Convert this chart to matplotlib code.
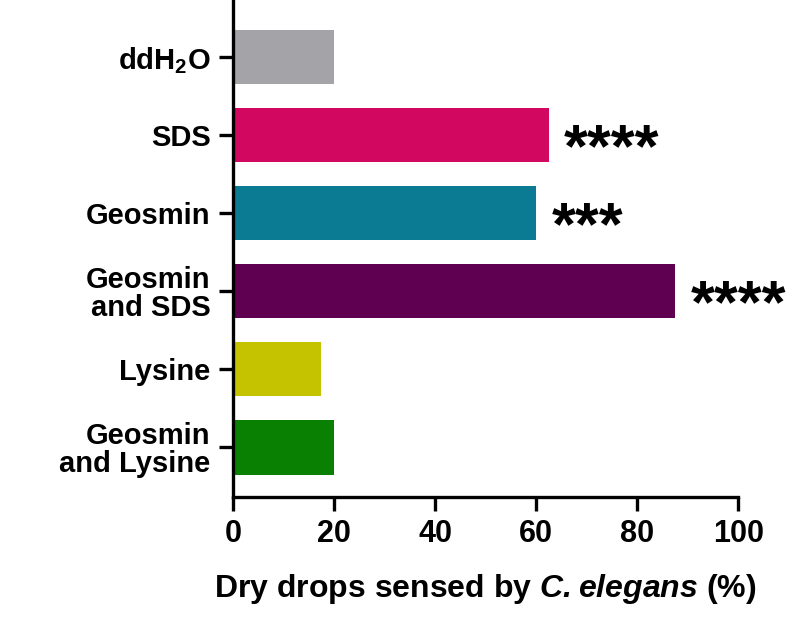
import matplotlib
matplotlib.use("Agg")
import matplotlib.pyplot as plt

categories = ["ddH$_\\mathbf{2}$O", "SDS", "Geosmin", "Geosmin\nand SDS", "Lysine", "Geosmin\nand Lysine"]
values = [20, 62.5, 60, 87.5, 17.5, 20]
stars = ["", "****", "***", "****", "", ""]
colors = ["#a3a3a8", "#d2075f", "#0b7b93", "#5f0050", "#c5c300", "#0a8002"]
xticks = [0, 20, 40, 60, 80, 100]

plt.rcParams["font.family"] = "Liberation Sans"
plt.rcParams["font.weight"] = "bold"
plt.rcParams["mathtext.fontset"] = "custom"
plt.rcParams["mathtext.bf"] = "Liberation Sans:bold"
plt.rcParams["mathtext.rm"] = "Liberation Sans:bold"
plt.rcParams["mathtext.bfit"] = "Liberation Sans:bold:italic"
plt.rcParams["mathtext.default"] = "bf"
fig = plt.figure(figsize=(8, 6.39), dpi=100)
ax = fig.add_axes([0.291, 0.222, 0.632, 0.778])
y = list(range(len(categories)))
ax.barh(y, values, height=0.7, color=colors)
for yi, v, s in zip(y, values, stars):
    if s:
        ax.text(v + 3, yi + 0.2, s, va="center", ha="left", fontsize=44, fontweight="bold")
ax.set_ylim(5.64, -0.73)
ax.set_xlim(0, 100)
ax.set_yticks(y)
ax.set_yticklabels(categories, fontsize=21, fontweight="bold", linespacing=1.0)
ax.set_xticks(xticks)
ax.set_xticklabels([str(t) for t in xticks], fontsize=22, fontweight="bold")
for s in ["top", "right"]:
    ax.spines[s].set_visible(False)
for s in ["left", "bottom"]:
    ax.spines[s].set_linewidth(2.4)
ax.tick_params(width=2.4, length=10, pad=6)
ax.set_xlabel("Dry drops sensed by $\\mathbfit{C. elegans}$ (%)", fontsize=23, fontweight="bold", labelpad=16)
fig.savefig("out.png", dpi=100)
